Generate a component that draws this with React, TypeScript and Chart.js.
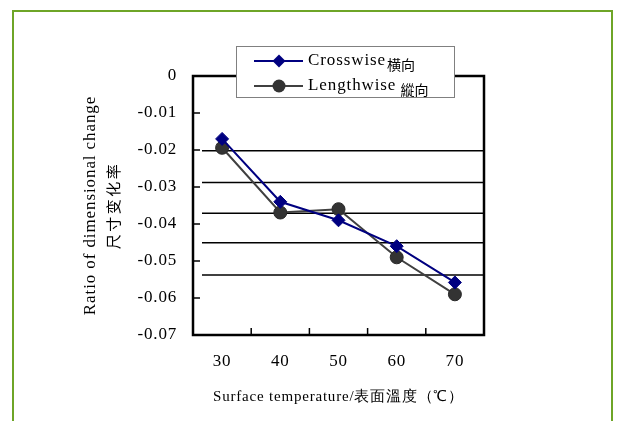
import React, { useEffect, useRef } from "react";
import { Chart, registerables } from "chart.js";

Chart.register(...registerables);

const temperatures = ["30", "40", "50", "60", "70"];
const crosswise = [-0.017, -0.034, -0.039, -0.046, -0.0558];
const lengthwise = [-0.0194, -0.0369, -0.036, -0.049, -0.059];
const yTicks = [0, -0.01, -0.02, -0.03, -0.04, -0.05, -0.06, -0.07];
const gridLevels = [-0.0202, -0.0288, -0.0371, -0.0451, -0.0538];
const seriesNames = ["Crosswise", "Lengthwise"];
const seriesCjk = ["横向", " 縱向"];
const yTitle = ["Ratio of dimensional change", "尺寸变化率"];
const xTitle = "Surface temperature/表面溫度（℃）";

const SERIF = "'Liberation Serif', 'Times New Roman', serif";
const CROSS_COLOR = "#000080";
const LENGTH_LINE = "#404040";
const LENGTH_POINT = "#333333";

export default function App() {
  const ref = useRef<HTMLCanvasElement>(null);

  useEffect(() => {
    document.body.style.margin = "0";
    const canvas = ref.current;
    if (!canvas) return;

    const drawMarker = (ctx: CanvasRenderingContext2D, kind: number, x: number, y: number) => {
      ctx.save();
      if (kind === 0) {
        const r = 6.5;
        ctx.beginPath();
        ctx.moveTo(x - r, y);
        ctx.lineTo(x, y - r);
        ctx.lineTo(x + r, y);
        ctx.lineTo(x, y + r);
        ctx.closePath();
        ctx.fillStyle = CROSS_COLOR;
        ctx.fill();
      } else {
        ctx.beginPath();
        ctx.arc(x, y, 6.5, 0, Math.PI * 2);
        ctx.fillStyle = LENGTH_POINT;
        ctx.fill();
      }
      ctx.restore();
    };

    const decor = {
      id: "decor",
      beforeDraw(chart: any) {
        const ctx: CanvasRenderingContext2D = chart.ctx;
        ctx.save();
        ctx.strokeStyle = "#6ea527";
        ctx.lineWidth = 2;
        ctx.beginPath();
        ctx.moveTo(13, 440);
        ctx.lineTo(13, 11);
        ctx.lineTo(612, 11);
        ctx.lineTo(612, 440);
        ctx.stroke();
        ctx.restore();
        // slight letter spacing for axis tick labels and the x title
        (ctx as any).letterSpacing = "0.8px";
      },
      beforeDatasetsDraw(chart: any) {
        const ctx: CanvasRenderingContext2D = chart.ctx;
        const { left, right, top, bottom } = chart.chartArea;
        const xs = chart.scales.x;
        const ys = chart.scales.y;
        ctx.save();
        ctx.strokeStyle = "#000000";
        ctx.lineWidth = 1.5;
        gridLevels.forEach((v) => {
          const py = ys.getPixelForValue(v);
          ctx.beginPath();
          ctx.moveTo(left + 9, py);
          ctx.lineTo(right, py);
          ctx.stroke();
        });
        yTicks.forEach((v) => {
          const py = ys.getPixelForValue(v);
          ctx.beginPath();
          ctx.moveTo(left, py);
          ctx.lineTo(left + 7, py);
          ctx.stroke();
        });
        for (let i = 0; i < temperatures.length - 1; i++) {
          const px = (xs.getPixelForTick(i) + xs.getPixelForTick(i + 1)) / 2;
          ctx.beginPath();
          ctx.moveTo(px, bottom);
          ctx.lineTo(px, bottom - 7);
          ctx.stroke();
        }
        ctx.lineWidth = 2.5;
        ctx.strokeRect(left, top, right - left, bottom - top);
        ctx.restore();
      },
      afterDraw(chart: any) {
        const ctx: CanvasRenderingContext2D = chart.ctx;
        (ctx as any).letterSpacing = "0px";
        const { top, bottom } = chart.chartArea;
        const cy = (top + bottom) / 2;
        ctx.save();
        ctx.fillStyle = "#000000";
        ctx.textAlign = "center";
        ctx.textBaseline = "middle";
        ctx.translate(91, cy);
        ctx.rotate(-Math.PI / 2);
        ctx.font = `17px ${SERIF}`;
        (ctx as any).letterSpacing = "0.9px";
        ctx.fillText(yTitle[0], 0, 0);
        ctx.font = `15px 'Noto Sans CJK SC', sans-serif`;
        (ctx as any).letterSpacing = "2.5px";
        ctx.fillText(yTitle[1], 0, 22);
        ctx.restore();

        ctx.save();
        const bx = 236, by = 46, bw = 218, bh = 51;
        ctx.fillStyle = "#ffffff";
        ctx.fillRect(bx, by, bw, bh);
        ctx.strokeStyle = "#808080";
        ctx.lineWidth = 1;
        ctx.strokeRect(bx + 0.5, by + 0.5, bw, bh);
        const rows = [61, 86];
        seriesNames.forEach((name, i) => {
          const ry = rows[i];
          ctx.strokeStyle = i === 0 ? CROSS_COLOR : LENGTH_LINE;
          ctx.lineWidth = 2;
          ctx.beginPath();
          ctx.moveTo(254, ry);
          ctx.lineTo(303, ry);
          ctx.stroke();
          drawMarker(ctx, i, 279, ry);
          ctx.fillStyle = "#000000";
          ctx.textAlign = "left";
          ctx.textBaseline = "middle";
          ctx.font = `17px ${SERIF}`;
          (ctx as any).letterSpacing = "0.9px";
          ctx.fillText(name, 308, ry);
          const w = ctx.measureText(name).width;
          ctx.font = `14px 'Noto Sans CJK TC', sans-serif`;
          (ctx as any).letterSpacing = "0px";
          ctx.fillText(seriesCjk[i], 309 + w, ry + 4);
        });
        ctx.restore();
      },
    };

    const chart = new Chart(canvas, {
      type: "line",
      data: {
        labels: temperatures,
        datasets: [
          {
            label: seriesNames[0],
            data: crosswise,
            borderColor: CROSS_COLOR,
            backgroundColor: CROSS_COLOR,
            borderWidth: 2,
            pointStyle: "rectRot",
            pointRadius: 6.5,
            pointBorderWidth: 1,
            pointBackgroundColor: CROSS_COLOR,
            pointBorderColor: CROSS_COLOR,
            tension: 0,
          },
          {
            label: seriesNames[1],
            data: lengthwise,
            borderColor: LENGTH_LINE,
            backgroundColor: LENGTH_POINT,
            borderWidth: 2,
            pointStyle: "circle",
            pointRadius: 6.5,
            pointBorderWidth: 1,
            pointBackgroundColor: LENGTH_POINT,
            pointBorderColor: "#2a2a2a",
            tension: 0,
          },
        ],
      },
      options: {
        responsive: false,
        animation: false,
        layout: { padding: { left: 0, top: 76, right: 134, bottom: 0 } },
        plugins: {
          legend: { display: false },
          tooltip: { enabled: false },
          title: { display: false },
        },
        scales: {
          x: {
            type: "category",
            offset: true,
            grid: { display: false, drawTicks: false, offset: true },
            border: { display: false },
            ticks: {
              color: "#000000",
              font: { family: SERIF, size: 17 },
              padding: 16,
              maxRotation: 0,
            },
            title: {
              display: true,
              text: xTitle,
              color: "#000000",
              font: { family: SERIF, size: 15 },
              padding: { top: 0, bottom: 15 },
            },
            afterFit: (s: any) => {
              s.height = 86;
            },
          },
          y: {
            type: "linear",
            min: -0.07,
            max: 0,
            grid: { display: false, drawTicks: false },
            border: { display: false },
            afterBuildTicks: (s: any) => {
              s.ticks = [...yTicks].reverse().map((value) => ({ value }));
            },
            ticks: {
              color: "#000000",
              font: { family: SERIF, size: 17 },
              padding: 16,
              autoSkip: false,
              callback: (v: any) => {
                const n = Number(v);
                return Math.abs(n) < 1e-9 ? "0" : n.toFixed(2);
              },
            },
            afterFit: (s: any) => {
              s.width = 193;
            },
          },
        },
      },
      plugins: [decor],
    });

    return () => chart.destroy();
  }, []);

  return (
    <canvas
      ref={ref}
      width={618}
      height={421}
      style={{ display: "block", width: 618, height: 421 }}
    />
  );
}
